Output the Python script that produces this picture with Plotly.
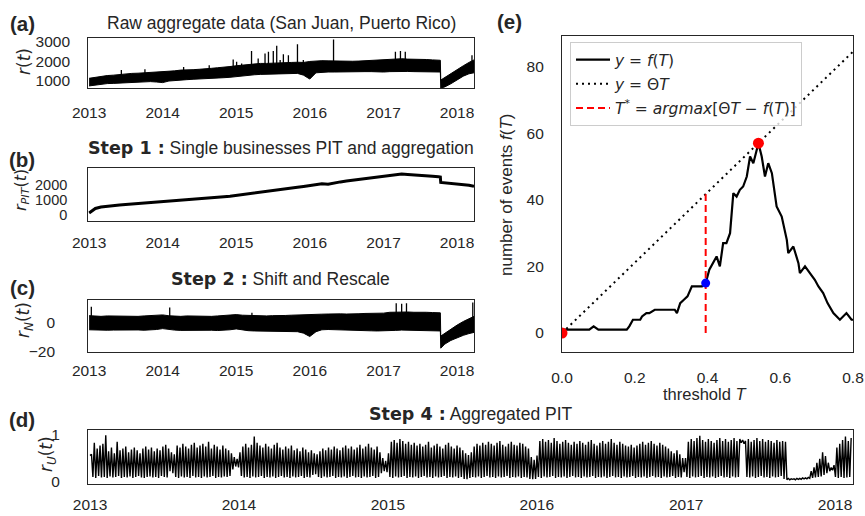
import pandas as pd
import plotly.graph_objects as go

W, H = 865, 516

# ---------------- data ----------------
YEAR_TICKS = ["2013-01-01", "2014-01-01", "2015-01-01", "2016-01-01", "2017-01-01", "2018-01-01"]
YEAR_LABELS = ["2013", "2014", "2015", "2016", "2017", "2018"]

MONTHS = [f"{y}-{m:02d}-01" for y in range(2013, 2018) for m in range(1, 13)][:58]
T_DATES = MONTHS + ["2017-10-10", "2017-10-12", "2017-11-01", "2017-12-01",
                    "2018-01-01", "2018-02-01", "2018-03-01", "2018-03-26"]

# (a) raw aggregate data: upper / lower envelope of the daily series
A_HI = [1140, 1200, 1240, 1280, 1300, 1330, 1380, 1390, 1400, 1420, 1440, 1440,
        1460, 1480, 1520, 1560, 1560, 1580, 1600, 1610, 1650, 1680, 1700, 1740,
        1780, 1820, 1860, 1880, 1900, 1900, 1920, 1930, 1940, 1950, 1960, 1950,
        2000, 2040, 2040, 2030, 2020, 2010, 2000, 2010, 2020, 2040, 2060, 2080,
        2100, 2120, 2140, 2140, 2120, 2120, 2110, 2100, 2080, 2060,
        2060, 1050, 1180, 1380, 1620, 1780, 1950, 2080]
A_LO = [750, 800, 840, 870, 880, 900, 910, 930, 950, 960, 970, 950,
        920, 1000, 1030, 1050, 1070, 1090, 1100, 1110, 1130, 1150, 1170, 1190,
        1230, 1270, 1300, 1320, 1340, 1350, 1360, 1370, 1380, 1390, 1390, 1300,
        1100, 1420, 1450, 1460, 1460, 1470, 1470, 1470, 1480, 1480, 1480, 1460,
        1460, 1480, 1490, 1490, 1490, 1480, 1480, 1480, 1470, 1460,
        1460, 640, 700, 860, 1060, 1250, 1370, 1420]
A_SPIKE_DATES = ["2013-06-10", "2013-10-05", "2014-04-15", "2014-08-20", "2014-12-17",
                 "2015-01-03", "2015-01-28", "2015-03-18", "2015-04-20", "2015-05-24",
                 "2015-06-10", "2015-07-04", "2015-07-21", "2015-08-07", "2015-08-23",
                 "2015-09-17", "2015-11-01", "2015-11-30", "2016-04-28", "2017-03-01",
                 "2017-03-26", "2017-04-19", "2018-03-16"]
A_SPIKE_TOP = [1560, 1600, 1720, 1800, 2100, 1990, 1900, 2540, 2150, 2410,
               2490, 2540, 2800, 2070, 2370, 2320, 2880, 2070, 3120, 2490,
               2540, 2490, 2320]
A_SPIKE_BASE = [1100, 1150, 1300, 1350, 1400, 1450, 1500, 1550, 1600, 1600,
                1600, 1600, 1650, 1650, 1650, 1650, 1650, 1650, 1700, 1800,
                1800, 1800, 1700]

# (b) Step 1: single businesses PIT and aggregation
B_VAL = [150, 450, 540, 600, 640, 680, 710, 740, 770, 800, 830, 860,
         890, 920, 950, 980, 1010, 1040, 1070, 1110, 1150, 1190, 1230, 1270,
         1320, 1370, 1420, 1470, 1520, 1570, 1620, 1680, 1740, 1800, 1860, 1920,
         1980, 2040, 2100, 2060, 2150, 2220, 2280, 2330, 2380, 2430, 2480, 2530,
         2580, 2640, 2700, 2740, 2720, 2700, 2680, 2640, 2600, 2560,
         2540, 2180, 2160, 2130, 2080, 2040, 2000, 1920]

# (c) Step 2: shift and rescale (envelopes)
C_HI = [4.5, 4.2, 4.0, 4.3, 4.2, 4.0, 4.4, 4.2, 4.0, 4.3, 4.4, 4.6,
        5.0, 4.4, 4.2, 4.0, 4.3, 4.1, 3.9, 4.2, 4.0, 4.3, 4.5, 4.8,
        5.2, 4.8, 4.6, 4.4, 4.6, 4.3, 4.5, 4.4, 4.6, 4.8, 5.0, 5.2,
        5.6, 5.8, 5.5, 5.6, 5.4, 5.7, 5.6, 5.5, 5.8, 6.0, 5.9, 6.0,
        6.2, 6.8, 7.0, 7.2, 7.0, 6.8, 7.0, 6.8, 6.6, 6.5,
        6.4, -9.5, -7.5, -4.5, -2.0, 0.5, 2.5, 4.0]
C_LO = [-5.2, -5.4, -5.3, -5.5, -5.4, -5.3, -5.6, -5.4, -5.3, -5.5, -5.4, -5.0,
        -4.4, -5.0, -5.4, -5.6, -5.5, -5.7, -5.8, -5.6, -5.5, -5.7, -5.6, -5.2,
        -4.6, -5.4, -5.8, -6.0, -6.0, -6.2, -6.0, -6.2, -6.3, -6.4, -6.5, -7.5,
        -9.8, -6.5, -5.2, -5.0, -5.2, -5.3, -5.4, -5.5, -5.6, -5.8, -5.9, -6.0,
        -6.0, -5.8, -5.6, -5.4, -5.5, -5.6, -5.7, -5.8, -5.9, -6.0,
        -6.0, -17.8, -15.0, -12.5, -10.5, -9.0, -7.8, -7.0]
C_SPIKE_DATES = ["2013-01-12", "2014-02-05", "2015-03-20", "2017-03-05",
                 "2017-04-01", "2017-04-25", "2018-03-20"]
C_SPIKE_TOP = [10.5, 10.0, 6.5, 13.0, 12.6, 13.0, 13.5]
C_SPIKE_BASE = [0, 0, 0, 2, 2, 2, 0]

# (d) Step 4: aggregated PIT, weekly peaks and troughs
D_START = "2013-01-01"
D_HI = ([0.58, 0.82, 0.70, 0.76, 0.80, 0.98, 0.64, 0.72, 0.60, 0.84, 0.66, 0.70, 0.74,
         0.62, 0.68, 0.72, 0.66, 0.60, 0.70, 0.74, 0.68, 0.72, 0.64, 0.70, 0.66, 0.74,
         0.78, 0.70, 0.62, 0.58, 0.76, 0.72, 0.80, 0.74, 0.70, 0.78, 0.82, 0.72, 0.76,
         0.80, 0.74, 0.84, 0.70, 0.78, 0.74, 0.68, 0.76, 0.70, 0.66, 0.60, 0.52, 0.48]
        + [0.62, 0.74, 0.80, 0.72, 0.78, 0.95, 0.82, 0.76, 0.72, 0.80, 0.74, 0.70, 0.78,
           0.82, 0.72, 0.68, 0.74, 0.70, 0.76, 0.66, 0.70, 0.64, 0.72, 0.68, 0.62, 0.66,
           0.60, 0.58, 0.64, 0.70, 0.66, 0.72, 0.68, 0.74, 0.70, 0.66, 0.72, 0.76, 0.70,
           0.74, 0.68, 0.72, 0.78, 0.70, 0.74, 0.80, 0.72, 0.68, 0.74, 0.62, 0.50, 0.44]
        + [0.60, 0.84, 0.88, 0.82, 0.90, 0.86, 0.80, 0.84, 0.78, 0.82, 0.76, 0.80, 0.74,
           0.78, 0.84, 0.72, 0.76, 0.80, 0.74, 0.70, 0.78, 0.82, 0.74, 0.70, 0.76, 0.72,
           0.66, 0.60, 0.56, 0.62, 0.74, 0.80, 0.76, 0.82, 0.78, 0.84, 0.80, 0.76, 0.82,
           0.86, 0.78, 0.74, 0.80, 0.84, 0.78, 0.76, 0.82, 0.80, 0.74, 0.70, 0.52, 0.46]
        + [0.55, 0.86, 0.90, 0.84, 0.88, 0.82, 0.92, 0.86, 0.80, 0.84, 0.88, 0.82, 0.78,
           0.84, 0.80, 0.86, 0.82, 0.78, 0.84, 0.88, 0.80, 0.76, 0.82, 0.86, 0.80, 0.84,
           0.90, 0.82, 0.78, 0.84, 0.80, 0.76, 0.74, 0.78, 0.72, 0.76, 0.80, 0.84, 0.78,
           0.82, 0.86, 0.80, 0.76, 0.82, 0.78, 0.74, 0.70, 0.64, 0.60, 0.66, 0.58, 0.50]
        + [0.50, 0.84, 0.90, 0.86, 0.92, 0.97, 0.88, 0.84, 0.90, 0.86, 0.82, 0.88, 0.92,
           0.86, 0.90, 0.84, 0.88, 0.92, 0.86, 0.90, 0.88, 0.86, 0.90, 0.84, 0.88, 0.92,
           0.86, 0.90, 0.84, 0.88, 0.86, 0.82, 0.88, 0.84, 0.86, 0.84, 0.07, 0.06, 0.06,
           0.07, 0.07, 0.08, 0.08, 0.09, 0.22, 0.30, 0.40, 0.48, 0.62, 0.54, 0.40, 0.30]
        + [0.35, 0.72, 0.80, 0.88, 0.95, 0.86, 0.92])
D_LO = ([0.55, 0.10, 0.08, 0.12, 0.09, 0.10, 0.08, 0.11, 0.09, 0.10, 0.12, 0.08, 0.10,
         0.09, 0.11, 0.08, 0.10, 0.12, 0.09, 0.08, 0.10, 0.11, 0.09, 0.10, 0.08, 0.12,
         0.10, 0.09, 0.22, 0.18, 0.10, 0.08, 0.11, 0.09, 0.10, 0.08, 0.12, 0.09, 0.10,
         0.08, 0.11, 0.09, 0.10, 0.12, 0.08, 0.10, 0.09, 0.11, 0.10, 0.12, 0.26, 0.32]
        + [0.30, 0.12, 0.09, 0.10, 0.08, 0.11, 0.09, 0.10, 0.12, 0.08, 0.10, 0.09, 0.11,
           0.08, 0.10, 0.12, 0.09, 0.10, 0.08, 0.11, 0.09, 0.10, 0.12, 0.08, 0.10, 0.09,
           0.14, 0.16, 0.10, 0.08, 0.11, 0.09, 0.10, 0.12, 0.08, 0.10, 0.09, 0.11, 0.08,
           0.10, 0.12, 0.09, 0.10, 0.08, 0.11, 0.09, 0.10, 0.12, 0.08, 0.10, 0.18, 0.22]
        + [0.20, 0.10, 0.08, 0.11, 0.09, 0.10, 0.12, 0.08, 0.10, 0.09, 0.11, 0.08, 0.10,
           0.12, 0.09, 0.10, 0.08, 0.11, 0.09, 0.10, 0.12, 0.08, 0.10, 0.09, 0.11, 0.08,
           0.10, 0.06, 0.05, 0.08, 0.10, 0.09, 0.11, 0.08, 0.10, 0.12, 0.09, 0.10, 0.08,
           0.11, 0.09, 0.10, 0.12, 0.08, 0.10, 0.09, 0.11, 0.08, 0.10, 0.09, 0.06, 0.05]
        + [0.06, 0.10, 0.08, 0.11, 0.09, 0.10, 0.12, 0.08, 0.10, 0.09, 0.11, 0.08, 0.10,
           0.12, 0.09, 0.10, 0.08, 0.11, 0.09, 0.10, 0.12, 0.08, 0.10, 0.09, 0.11, 0.08,
           0.10, 0.12, 0.09, 0.10, 0.08, 0.11, 0.09, 0.10, 0.12, 0.08, 0.10, 0.09, 0.11,
           0.08, 0.10, 0.12, 0.09, 0.10, 0.08, 0.11, 0.09, 0.10, 0.12, 0.08, 0.10, 0.09]
        + [0.20, 0.10, 0.08, 0.11, 0.09, 0.10, 0.12, 0.08, 0.10, 0.09, 0.11, 0.08, 0.10,
           0.12, 0.09, 0.10, 0.08, 0.11, 0.09, 0.10, 0.82, 0.80, 0.10, 0.09, 0.11, 0.08,
           0.10, 0.12, 0.09, 0.10, 0.08, 0.11, 0.09, 0.10, 0.12, 0.06, 0.04, 0.04, 0.05,
           0.04, 0.05, 0.05, 0.06, 0.06, 0.07, 0.08, 0.09, 0.10, 0.11, 0.14, 0.18, 0.22]
        + [0.24, 0.10, 0.08, 0.10, 0.08, 0.09, 0.10])

# (e) number of events vs threshold
E_T = [0.0, 0.005, 0.075, 0.087, 0.10, 0.178, 0.185, 0.195, 0.215, 0.22, 0.232, 0.24,
       0.255, 0.265, 0.31, 0.316, 0.325, 0.335, 0.345, 0.357, 0.385, 0.395, 0.405,
       0.425, 0.434, 0.443, 0.452, 0.462, 0.471, 0.48, 0.489, 0.498, 0.508, 0.517,
       0.526, 0.54, 0.549, 0.558, 0.567, 0.577, 0.59, 0.604, 0.618, 0.622, 0.636,
       0.65, 0.654, 0.668, 0.682, 0.695, 0.705, 0.718, 0.73, 0.746, 0.764, 0.782,
       0.796, 0.8]
E_F = [0, 1, 1, 2, 1, 1, 2, 4, 4, 5, 6, 6, 7, 7, 7, 6, 9, 10, 11, 14, 14, 15, 19, 23,
       20, 27, 27, 30, 42, 41, 43, 44, 47, 53, 51, 57, 53, 47, 51, 48, 38, 35, 28, 24,
       26, 21, 18, 20, 18, 16, 14, 12, 9, 6, 4, 6, 4, 4]
THETA_T = [0.0, 0.8]
THETA_Y = [0.0, 84.5]
TSTAR = 0.395
TSTAR_LINE_Y = [0.0, 41.7]
RED_PTS_T = [0.0, 0.54]
RED_PTS_F = [0.0, 57.0]
BLUE_PT_T = [0.395]
BLUE_PT_F = [15.0]

# ---------------- helpers ----------------
def px(x):
    return x / W

def py(y):
    return 1 - y / H

INK = "#262626"
TICKFONT = dict(family="Liberation Sans, Arial, sans-serif", size=15.5, color=INK)
TICKFONT_B = dict(family="Liberation Sans, Arial, sans-serif", size=14.5, color=INK)

fig = go.Figure()

def spikes(dates, base, top):
    xs, ys = [], []
    for d, b, t in zip(dates, base, top):
        xs += [d, d, None]
        ys += [b, t, None]
    return xs, ys

# (a)
fig.add_trace(go.Scatter(x=T_DATES, y=A_LO, mode="lines", line=dict(color="black", width=1),
                         xaxis="x", yaxis="y", showlegend=False, hoverinfo="skip"))
fig.add_trace(go.Scatter(x=T_DATES, y=A_HI, mode="lines", line=dict(color="black", width=1),
                         fill="tonexty", fillcolor="black",
                         xaxis="x", yaxis="y", showlegend=False, hoverinfo="skip"))
sx, sy = spikes(A_SPIKE_DATES, A_SPIKE_BASE, A_SPIKE_TOP)
fig.add_trace(go.Scatter(x=sx, y=sy, mode="lines", line=dict(color="black", width=1.3),
                         xaxis="x", yaxis="y", showlegend=False, hoverinfo="skip"))

# (b)
fig.add_trace(go.Scatter(x=T_DATES, y=B_VAL, mode="lines", line=dict(color="black", width=3),
                         xaxis="x2", yaxis="y2", showlegend=False, hoverinfo="skip"))

# (c)
fig.add_trace(go.Scatter(x=T_DATES, y=C_LO, mode="lines", line=dict(color="black", width=1),
                         xaxis="x3", yaxis="y3", showlegend=False, hoverinfo="skip"))
fig.add_trace(go.Scatter(x=T_DATES, y=C_HI, mode="lines", line=dict(color="black", width=1),
                         fill="tonexty", fillcolor="black",
                         xaxis="x3", yaxis="y3", showlegend=False, hoverinfo="skip"))
sx, sy = spikes(C_SPIKE_DATES, C_SPIKE_BASE, C_SPIKE_TOP)
fig.add_trace(go.Scatter(x=sx, y=sy, mode="lines", line=dict(color="black", width=1.3),
                         xaxis="x3", yaxis="y3", showlegend=False, hoverinfo="skip"))

# (d) weekly zigzag between troughs and peaks
weeks = pd.date_range(D_START, periods=len(D_HI), freq="7D")
dx, dy = [], []
for wk, lo, hi in zip(weeks, D_LO, D_HI):
    dx += [wk, wk + pd.Timedelta(hours=84)]
    dy += [lo, hi]
fig.add_trace(go.Scatter(x=dx, y=dy, mode="lines", line=dict(color="black", width=1.4),
                         xaxis="x4", yaxis="y4", showlegend=False, hoverinfo="skip"))

# (e)
fig.add_trace(go.Scatter(x=E_T, y=E_F, mode="lines", line=dict(color="black", width=2.2),
                         name="<i>y</i> = <i>f</i>(<i>T</i>)", legendgroup="g1",
                         xaxis="x5", yaxis="y5"))
fig.add_trace(go.Scatter(x=THETA_T, y=THETA_Y, mode="lines",
                         line=dict(color="black", width=2, dash="2px,4px"),
                         name="<i>y</i> = Θ<i>T</i>", legendgroup="g2",
                         xaxis="x5", yaxis="y5"))
fig.add_trace(go.Scatter(x=[TSTAR, TSTAR], y=TSTAR_LINE_Y, mode="lines",
                         line=dict(color="red", width=2, dash="7px,4px"),
                         name="<i>T</i><sup>*</sup> = <i>argmax</i>[Θ<i>T</i> − <i>f</i>(<i>T</i>)]",
                         legendgroup="g3", xaxis="x5", yaxis="y5"))
fig.add_trace(go.Scatter(x=RED_PTS_T, y=RED_PTS_F, mode="markers",
                         marker=dict(color="red", size=11), showlegend=False,
                         xaxis="x5", yaxis="y5"))
fig.add_trace(go.Scatter(x=BLUE_PT_T, y=BLUE_PT_F, mode="markers",
                         marker=dict(color="blue", size=9), showlegend=False,
                         xaxis="x5", yaxis="y5"))

# ---------------- axes ----------------
def frame(**kw):
    d = dict(showline=True, linecolor=INK, linewidth=1.25, mirror=True, showgrid=False,
             zeroline=False, ticks="", tickfont=TICKFONT, fixedrange=True, automargin=False)
    d.update(kw)
    return d

LEFT_X = [px(88.3), px(474)]
date_range_abc = ["2012-12-28", "2018-03-26"]

fig.update_layout(
    template="none",
    width=W, height=H, margin=dict(l=0, r=0, t=0, b=0, autoexpand=False),
    plot_bgcolor="white", paper_bgcolor="white",
    xaxis=frame(domain=LEFT_X, anchor="y", type="date", range=date_range_abc,
                tickvals=YEAR_TICKS, ticktext=YEAR_LABELS, ticklabelstandoff=10),
    yaxis=frame(domain=[py(88), py(37.5)], anchor="x", range=[644, 3224],
                tickvals=[1000, 2000, 3000], ticklabelstandoff=14),
    xaxis2=frame(domain=LEFT_X, anchor="y2", type="date", range=date_range_abc,
                 tickvals=YEAR_TICKS, ticktext=YEAR_LABELS, ticklabelstandoff=8),
    yaxis2=frame(domain=[py(220.7), py(168.3)], anchor="x2", range=[-367, 3127],
                 tickvals=[0, 1000, 2000], ticklabelstandoff=17, tickfont=TICKFONT_B),
    xaxis3=frame(domain=LEFT_X, anchor="y3", type="date", range=date_range_abc,
                 tickvals=YEAR_TICKS, ticktext=YEAR_LABELS, ticklabelstandoff=5),
    yaxis3=frame(domain=[py(351.7), py(300)], anchor="x3", range=[-20.2, 15.2],
                 tickvals=[-20, 0], ticklabelstandoff=29),
    xaxis4=frame(domain=[px(88), px(853)], anchor="y4", type="date",
                 range=["2012-12-27", "2018-02-14"],
                 tickvals=YEAR_TICKS, ticktext=YEAR_LABELS, ticklabelstandoff=6),
    yaxis4=frame(domain=[py(484.3), py(430)], anchor="x4", range=[-0.055, 1.09],
                 tickvals=[0, 1], ticklabelstandoff=24),
    xaxis5=frame(domain=[px(562), px(853)], anchor="y5", range=[0, 0.8],
                 tickvals=[0, 0.2, 0.4, 0.6, 0.8], ticktext=["0.0", "0.2", "0.4", "0.6", "0.8"],
                 ticklabelstandoff=12),
    yaxis5=frame(domain=[py(351.7), py(36)], anchor="x5", range=[-5.6, 89.2],
                 tickvals=[0, 20, 40, 60, 80], ticklabelstandoff=14),
    legend=dict(x=px(570), y=py(42), xanchor="left", yanchor="top",
                bgcolor="rgba(255,255,255,0.8)", bordercolor="#cccccc", borderwidth=1,
                font=dict(family="DejaVu Sans, sans-serif", size=15.5, color=INK),
                traceorder="grouped", tracegroupgap=1, itemwidth=34),
)

# ---------------- text ----------------
SANS = "Liberation Sans, Arial, sans-serif"
MATH = "DejaVu Sans, sans-serif"
ann = []

def text(x, y, s, size=16, family=SANS, angle=0, xanchor="center"):
    ann.append(dict(x=px(x), y=py(y), xref="paper", yref="paper", text=s, showarrow=False,
                    xanchor=xanchor, yanchor="middle", textangle=angle,
                    font=dict(family=family, size=size, color=INK)))

BOLD = '<span style="font-family:DejaVu Sans"><b>{}</b></span>'

for lab, (x, y) in {"(a)": (22, 24), "(b)": (22, 159), "(c)": (22, 287),
                    "(d)": (22, 419), "(e)": (509, 22)}.items():
    text(x, y, f"<b>{lab}</b>", size=20.5)

TS = 17.5
text(281, 23, "Raw aggregate data (San Juan, Puerto Rico)", size=TS)
text(281, 148, BOLD.format("Step 1 :") + " Single businesses PIT and aggregation", size=TS)
text(280, 279, BOLD.format("Step 2 :") + " Shift and Rescale", size=TS)
text(470.5, 414, BOLD.format("Step 4 :") + " Aggregated PIT", size=TS)

text(24, 62, "<i>r</i>(<i>t</i>)", size=17, family=MATH, angle=-90)
text(21, 190, "<i>r</i><sub><i>PIT</i></sub>(<i>t</i>)", size=16, family=MATH, angle=-90)
text(24, 320, "<i>r</i><sub><i>N</i></sub>(<i>t</i>)", size=17, family=MATH, angle=-90)
text(47, 454, "<i>r</i><sub><i>U</i></sub>(<i>t</i>)", size=17, family=MATH, angle=-90)
text(506, 195, "number of events <i>f</i>(<i>T</i>)", size=17, angle=-90)
text(705, 394, "threshold <i>T</i>", size=16.5)

fig.update_layout(annotations=ann)

fig.write_html("out.html")
